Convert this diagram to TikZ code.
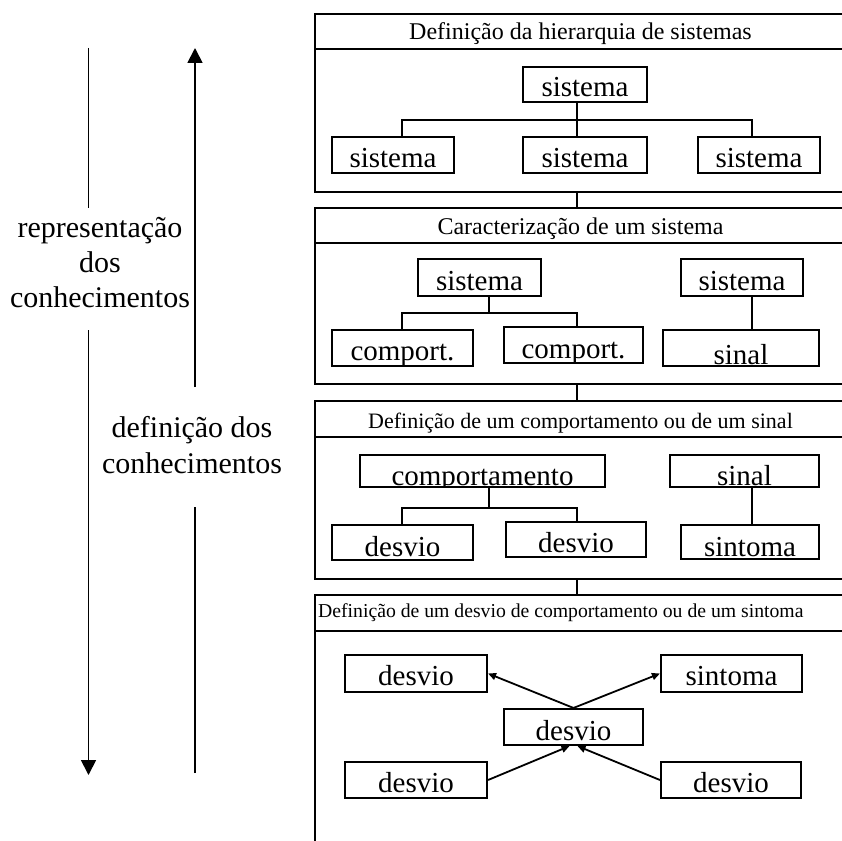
\documentclass[tikz,border=0pt]{standalone}
\usepackage{fontspec}
\setmainfont{Liberation Serif}
\usetikzlibrary{arrows.meta,calc}
\newcommand\lblfont{\fontsize{29}{34}\selectfont}
\newcommand\ttlAfont{\fontsize{24}{28}\selectfont}
\newcommand\ttlBfont{\fontsize{22}{26}\selectfont}
\newcommand\ttlCfont{\fontsize{19.7}{24}\selectfont}
\newcommand\sideAfont{\fontsize{30}{35}\selectfont}
\newcommand\sideBfont{\fontsize{30}{36}\selectfont}
\begin{document}
\begin{tikzpicture}[x=1pt,y=-1pt,
  frame/.style={draw,line width=2pt,inner sep=0pt,anchor=north west,minimum width=531pt},
  ttl/.style={draw,line width=2pt,inner xsep=0pt,inner ysep=0pt,anchor=north west,minimum width=531pt},
  box/.style={draw,line width=2.1pt,inner sep=0pt,font=\lblfont},
  conn/.style={line width=2.1pt},
  side/.style={line width=1.8pt},
  bigtip/.style={-{Triangle[length=15pt,width=15pt]}},
  arr/.style={line width=1.8pt,-{Triangle[length=8pt,width=7pt]}},
  clipped/.style 2 args={path picture={\node[font=\lblfont,inner sep=0pt,anchor=base] at ([yshift=#1]path picture bounding box.south) {#2};}}
]
\useasboundingbox (0,0) rectangle (842,840);
\clip (0,0) rectangle (842,840);

\coordinate (spine) at (577,0);

% ---------- Section 1 ----------
\node[frame,minimum height=178pt] (f1) at (314,13) {};
\node[ttl,font=\ttlAfont,text height=26pt,text depth=9pt] (t1) at (314,13) {Definição da hierarquia de sistemas};
\node[box,minimum width=124pt,text height=30pt,text depth=5pt] (s1t) at (585,84.5) {sistema};
\node[box,minimum width=122pt,text height=30pt,text depth=6pt] (s1a) at (393,155) {sistema};
\node[box,minimum width=124pt,text height=30pt,text depth=6pt] (s1b) at (585,155) {sistema};
\node[box,minimum width=122pt,text height=30pt,text depth=6pt] (s1c) at (759,155) {sistema};
\coordinate (b1L) at (402,120);
\coordinate (b1R) at (752,120);
\draw[conn] (s1t.south -| spine) -- (s1b.north -| spine);
\draw[conn] (s1a.north -| b1L) -- (b1L) -- (b1R) -- (s1c.north -| b1R);

% ---------- Section 2 ----------
\node[frame,minimum height=176pt] (f2) at (314,207) {};
\node[ttl,font=\ttlAfont,text height=26pt,text depth=9pt] (t2) at (314,207) {Caracterização de um sistema};
\node[box,minimum width=123pt,text height=31pt,text depth=6pt] (s2s) at (479.5,277.5) {sistema};
\node[box,minimum width=141pt,minimum height=36pt,clipped={6pt}{comport.}] (s2a) at (402.5,348) {};
\node[box,minimum width=139pt,minimum height=36pt,clipped={5pt}{comport.}] (s2b) at (573.5,345) {};
\node[box,minimum width=122pt,text height=31pt,text depth=6pt] (s2t) at (742,277.5) {sistema};
\node[box,minimum width=156pt,text height=34pt,text depth=2pt] (s2n) at (741,348) {sinal};
\coordinate (b2T) at (489,313);
\draw[conn] (s2s.south -| b2T) -- (b2T);
\draw[conn] (s2a.north -| b1L) |- (b2T) -| (s2b.north -| spine);
\draw[conn] (s2t.south -| b1R) -- (s2n.north -| b1R);

% ---------- Section 3 ----------
\node[frame,minimum height=178pt] (f3) at (314,400) {};
\node[ttl,font=\ttlBfont,text height=27pt,text depth=9pt] (t3) at (314,400) {Definição de um comportamento ou de um sinal};
\node[box,minimum width=245pt,minimum height=32pt,clipped={2pt}{comportamento}] (s3c) at (482.5,471) {};
\node[box,minimum width=149pt,text height=30pt,text depth=2pt] (s3s) at (744.5,471) {sinal};
\node[box,minimum width=141pt,text height=31pt,text depth=4pt] (s3a) at (402.5,542.5) {desvio};
\node[box,minimum width=140pt,text height=30pt,text depth=5pt] (s3b) at (576,539.5) {desvio};
\node[box,minimum width=138pt,text height=31pt,text depth=3pt] (s3t) at (750,542) {sintoma};
\coordinate (b3T) at (489,508);
\draw[conn] (s3c.south -| b3T) -- (b3T);
\draw[conn] (s3a.north -| b1L) |- (b3T) -| (s3b.north -| spine);
\draw[conn] (s3s.south -| b1R) -- (s3t.north -| b1R);

% ---------- Section 4 ----------
\node[frame,minimum height=260pt] (f4) at (314,594) {};
\node[ttl,minimum height=36pt] (t4) at (314,594) {};
\node[font=\ttlCfont,inner sep=0pt,anchor=base west] (t4text) at (318,617) {Definição de um desvio de comportamento ou de um sintoma};
\node[box,minimum width=142pt,text height=30pt,text depth=7pt] (tl) at (416,673.5) {desvio};
\node[box,minimum width=141pt,text height=30pt,text depth=7pt] (tr) at (731.5,673.5) {sintoma};
\node[box,minimum width=139pt,text height=31pt,text depth=5pt] (c4) at (573.5,727) {desvio};
\node[box,minimum width=142pt,text height=30pt,text depth=6pt] (bl) at (416,780) {desvio};
\node[box,minimum width=140pt,text height=30pt,text depth=6pt] (br) at (731,780) {desvio};
\draw[arr] (c4.north) -- (tl.east);
\draw[arr] (c4.north) -- (tr.west);
\draw[arr] (bl.east) -- ($(c4.south)+(-4,0)$);
\draw[arr] (br.west) -- ($(c4.south)+(4,0)$);

% ---------- connectors between sections ----------
\draw[conn] (f1.south -| spine) -- (f2.north -| spine);
\draw[conn] (f2.south -| spine) -- (f3.north -| spine);
\draw[conn] (f3.south -| spine) -- (f4.north -| spine);

% ---------- left side ----------
\node[font=\sideAfont,align=center,inner sep=0pt,anchor=base] (rep) at (100,307) {representação\\dos\\conhecimentos};
\node[font=\sideBfont,align=center,inner sep=0pt,anchor=base] (def) at (192,473) {definição dos\\conhecimentos};
\coordinate (d1) at (88.5,48);
\coordinate (d2) at (88.5,208);
\coordinate (d3) at (88.5,330);
\coordinate (d4) at (88.5,775);
\coordinate (u1) at (195,387);
\coordinate (u2) at (195,48);
\coordinate (u3) at (195,773);
\coordinate (u4) at (195,507);
\draw[side] (d1) -- (d2);
\draw[side,bigtip] (d3) -- (d4);
\draw[side,bigtip] (u1) -- (u2);
\draw[side] (u3) -- (u4);
\end{tikzpicture}
\end{document}
